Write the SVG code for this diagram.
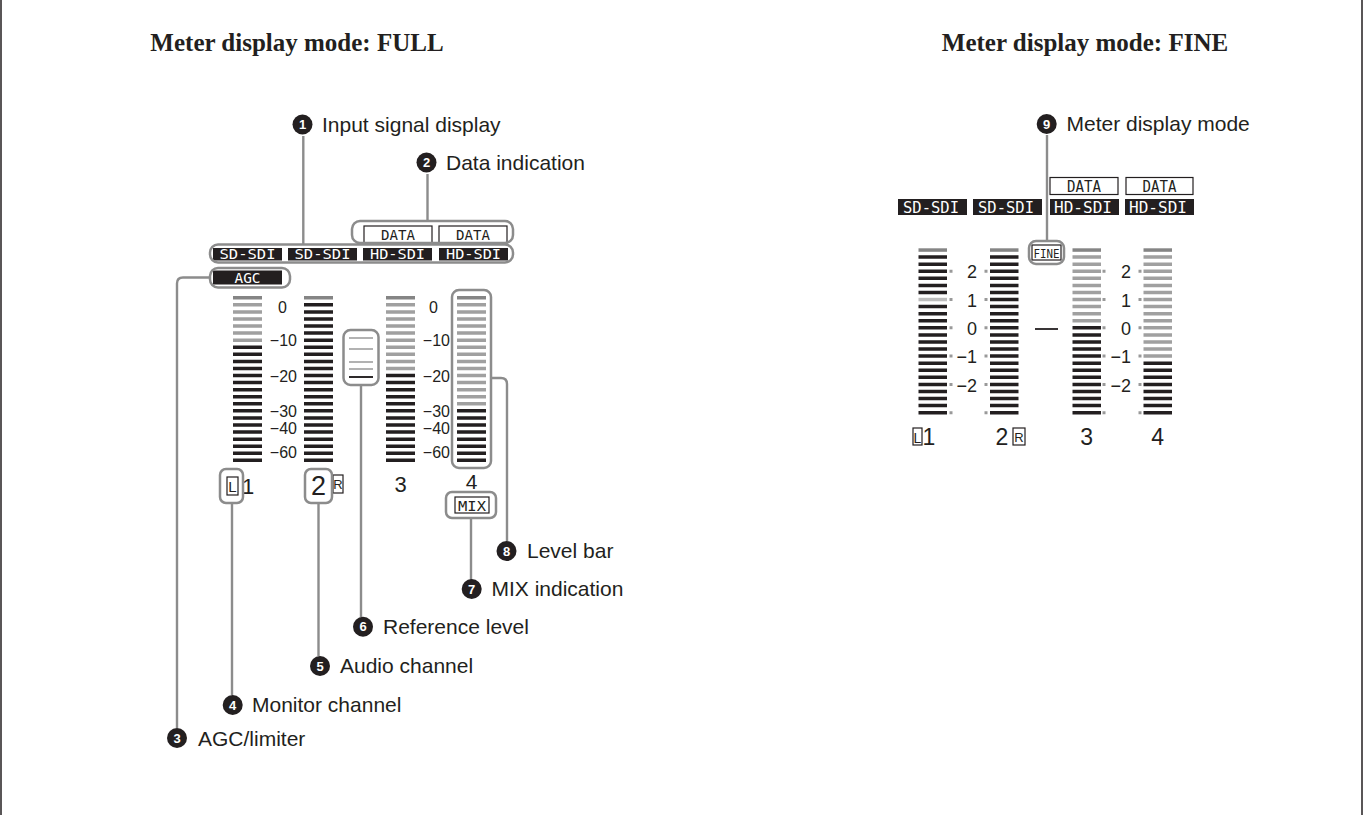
<svg xmlns="http://www.w3.org/2000/svg" width="1364" height="815" viewBox="0 0 1364 815">
<style>
.hl{fill:none;stroke:#8c8c8c;stroke-width:2.5}
.ld{fill:none;stroke:#8c8c8c;stroke-width:2.4}
.bk{fill:#231f20}
.lcd{font-family:"DejaVu Sans Mono","Liberation Mono",monospace;fill:#fff;text-anchor:middle}
.lcdb{font-family:"DejaVu Sans Mono","Liberation Mono",monospace;fill:#231f20;text-anchor:middle}
.box{fill:#fff;stroke:#231f20;stroke-width:1.2}
.lbl{font-family:"Liberation Sans",Arial,sans-serif;font-size:21px;fill:#231f20}
.cn{fill:#231f20}
.num{font-family:"Liberation Sans",Arial,sans-serif;font-weight:bold;font-size:13px;fill:#fff;text-anchor:middle}
.title{font-family:"Liberation Serif","Times New Roman",serif;font-weight:bold;font-size:25px;text-anchor:middle;fill:#231f20}
.sc{font-family:"Liberation Sans",Arial,sans-serif;font-size:16px;text-anchor:end;fill:#231f20}
.scf{font-family:"Liberation Sans",Arial,sans-serif;font-size:18px;text-anchor:end;fill:#231f20}
.ch{font-family:"Liberation Sans",Arial,sans-serif;text-anchor:middle;fill:#231f20}
.bar{fill:none;stroke-dasharray:3.5 3.57}
.g{stroke:#a0a0a0}
.k{stroke:#231f20}
.dk{fill:#858585}
.mk{fill:none;stroke:#999;stroke-width:3;stroke-dasharray:3 25.28}
</style>
<path d="M1,0 V815 M1362,0 V815" stroke="#231f20" stroke-width="1.5" fill="none"/>
<text class="title" x="297" y="51">Meter display mode: FULL</text>
<text class="title" x="1085" y="51">Meter display mode: FINE</text>

<g id="connectors">
<path class="ld" d="M303.3,136 V244"/>
<path class="ld" d="M427.5,174 V221"/>
<path class="ld" d="M210,277.5 H183 Q177,277.5 177,283.5 V728"/>
<path class="ld" d="M232,503 V695"/>
<path class="ld" d="M318.5,503 V656"/>
<path class="ld" d="M361,385 V617"/>
<path class="ld" d="M471,518 V580"/>
<path class="ld" d="M491,378 H501 Q507,378 507,384 V541"/>
<path class="ld" d="M1047,135 V241"/>
</g>

<g id="label1"><circle class="cn" cx="302.5" cy="124.5" r="10"/><text class="num" x="302.5" y="129">1</text><text class="lbl" x="322" y="131.5">Input signal display</text></g>
<g id="label2"><circle class="cn" cx="426.5" cy="162.5" r="10"/><text class="num" x="426.5" y="167">2</text><text class="lbl" x="446" y="169.5">Data indication</text></g>
<g id="label3"><circle class="cn" cx="177" cy="738" r="10"/><text class="num" x="177" y="742.5">3</text><text class="lbl" x="198" y="745.5">AGC/limiter</text></g>
<g id="label4"><circle class="cn" cx="232.7" cy="705" r="10"/><text class="num" x="232.7" y="709.5">4</text><text class="lbl" x="252" y="712">Monitor channel</text></g>
<g id="label5"><circle class="cn" cx="320" cy="666" r="10"/><text class="num" x="320" y="670.5">5</text><text class="lbl" x="340" y="673">Audio channel</text></g>
<g id="label6"><circle class="cn" cx="363" cy="626.7" r="10"/><text class="num" x="363" y="631.2">6</text><text class="lbl" x="383" y="634">Reference level</text></g>
<g id="label7"><circle class="cn" cx="471.7" cy="589" r="10"/><text class="num" x="471.7" y="593.5">7</text><text class="lbl" x="491.5" y="596">MIX indication</text></g>
<g id="label8"><circle class="cn" cx="506.5" cy="551" r="10"/><text class="num" x="506.5" y="555.5">8</text><text class="lbl" x="527" y="558">Level bar</text></g>
<g id="label9"><circle class="cn" cx="1046.7" cy="124" r="10"/><text class="num" x="1046.7" y="128.5">9</text><text class="lbl" x="1066.5" y="131">Meter display mode</text></g>

<!-- FULL display -->
<g id="full-data">
<rect class="box" x="364" y="226" width="68" height="17"/>
<rect class="box" x="439" y="226" width="68" height="17"/>
<text class="lcdb" x="398" y="240" font-size="14" textLength="34" lengthAdjust="spacingAndGlyphs">DATA</text>
<text class="lcdb" x="473" y="240" font-size="14" textLength="34" lengthAdjust="spacingAndGlyphs">DATA</text>
<rect class="hl" x="352" y="221" width="161" height="22" rx="8"/>
</g>
<g id="full-sdi">
<rect class="bk" x="213" y="248" width="69" height="12.5"/>
<rect class="bk" x="288" y="248" width="69" height="12.5"/>
<rect class="bk" x="363" y="248" width="69" height="12.5"/>
<rect class="bk" x="439" y="248" width="69" height="12.5"/>
<text class="lcd" x="247.5" y="259.3" font-size="14" textLength="56" lengthAdjust="spacingAndGlyphs">SD-SDI</text>
<text class="lcd" x="322.5" y="259.3" font-size="14" textLength="56" lengthAdjust="spacingAndGlyphs">SD-SDI</text>
<text class="lcd" x="397.5" y="259.3" font-size="14" textLength="55" lengthAdjust="spacingAndGlyphs">HD-SDI</text>
<text class="lcd" x="473.5" y="259.3" font-size="14" textLength="55" lengthAdjust="spacingAndGlyphs">HD-SDI</text>
<rect class="hl" x="210" y="244.5" width="303" height="18" rx="8"/>
</g>
<g id="full-agc">
<rect class="bk" x="213" y="270.5" width="69" height="14"/>
<text class="lcd" x="247.5" y="282.5" font-size="14" textLength="26" lengthAdjust="spacingAndGlyphs">AGC</text>
<rect class="hl" x="210" y="268" width="80" height="19.5" rx="8"/>
</g>
<g id="full-meters">
<rect class="dk" x="233" y="296" width="29" height="3.5"/>
<line class="bar g" x1="247.5" y1="303.07" x2="247.5" y2="345.49" stroke-width="29"/>
<line class="bar k" x1="247.5" y1="345.49" x2="247.5" y2="465.68" stroke-width="29"/>
<rect class="dk" x="304" y="296" width="29" height="3.5"/>
<line class="bar k" x1="318.5" y1="303.07" x2="318.5" y2="465.68" stroke-width="29"/>
<rect class="dk" x="386" y="296" width="29" height="3.5"/>
<line class="bar g" x1="400.5" y1="303.07" x2="400.5" y2="373.77" stroke-width="29"/>
<line class="bar k" x1="400.5" y1="373.77" x2="400.5" y2="465.68" stroke-width="29"/>
<rect class="dk" x="457" y="296" width="29" height="3.5"/>
<line class="bar g" x1="471.5" y1="303.07" x2="471.5" y2="409.12" stroke-width="29"/>
<line class="bar k" x1="471.5" y1="409.12" x2="471.5" y2="465.68" stroke-width="29"/>
<text class="sc" x="287" y="312.5">0</text>
<text class="sc" x="297" y="346">−10</text>
<text class="sc" x="297" y="381.5">−20</text>
<text class="sc" x="297" y="416.5">−30</text>
<text class="sc" x="297" y="433.5">−40</text>
<text class="sc" x="297" y="458">−60</text>
<text class="sc" x="438" y="312.5">0</text>
<text class="sc" x="450" y="346">−10</text>
<text class="sc" x="450" y="381.5">−20</text>
<text class="sc" x="450" y="416.5">−30</text>
<text class="sc" x="450" y="433.5">−40</text>
<text class="sc" x="450" y="458">−60</text>
</g>
<g id="full-reference">
<path d="M349,338 H373 M349,349 H373 M349,362 H373 M349,369 H373" stroke="#999" stroke-width="1.7"/>
<path d="M349,377 H373" stroke="#231f20" stroke-width="1.9"/>
<rect class="hl" x="343.5" y="330" width="35" height="55" rx="7"/>
</g>
<g id="full-levelbar">
<rect class="hl" x="452" y="290" width="39" height="178" rx="7"/>
</g>
<g id="full-channels">
<rect class="box" x="227" y="477" width="11" height="18" fill="none"/>
<text class="ch" x="232.5" y="492" font-size="15">L</text>
<text class="ch" x="248" y="494" font-size="22">1</text>
<rect class="hl" x="220" y="469" width="23" height="34" rx="6"/>
<text class="ch" x="318.5" y="495" font-size="27">2</text>
<rect class="box" x="333" y="475" width="10" height="18"/>
<text class="ch" x="338" y="489" font-size="13">R</text>
<rect class="hl" x="305" y="469" width="27" height="34" rx="6"/>
<text class="ch" x="400.5" y="492" font-size="22">3</text>
<text class="ch" x="471.5" y="489" font-size="21">4</text>
<rect class="box" x="455" y="497" width="34" height="16"/>
<text class="lcdb" x="472" y="510.5" font-size="14" textLength="28" lengthAdjust="spacingAndGlyphs">MIX</text>
<rect class="hl" x="446" y="492" width="50" height="26" rx="6"/>
</g>

<!-- FINE display -->
<g id="fine-data">
<rect class="box" x="1050" y="177.5" width="68" height="17"/>
<rect class="box" x="1126" y="177.5" width="67" height="17"/>
<text class="lcdb" x="1084" y="192" font-size="15" textLength="34" lengthAdjust="spacingAndGlyphs">DATA</text>
<text class="lcdb" x="1159.5" y="192" font-size="15" textLength="34" lengthAdjust="spacingAndGlyphs">DATA</text>
</g>
<g id="fine-sdi">
<rect class="bk" x="898" y="199" width="69" height="16"/>
<rect class="bk" x="973" y="199" width="69" height="16"/>
<rect class="bk" x="1050" y="199" width="69" height="16"/>
<rect class="bk" x="1125" y="199" width="69" height="16"/>
<text class="lcd" x="931" y="213" font-size="16" textLength="56" lengthAdjust="spacingAndGlyphs">SD-SDI</text>
<text class="lcd" x="1006" y="213" font-size="16" textLength="56" lengthAdjust="spacingAndGlyphs">SD-SDI</text>
<text class="lcd" x="1083" y="213" font-size="16" textLength="58" lengthAdjust="spacingAndGlyphs">HD-SDI</text>
<text class="lcd" x="1158" y="213" font-size="16" textLength="58" lengthAdjust="spacingAndGlyphs">HD-SDI</text>
</g>
<g id="fine-mode">
<rect class="box" x="1032" y="245" width="29" height="15"/>
<text class="lcdb" x="1046.5" y="258" font-size="13" textLength="26" lengthAdjust="spacingAndGlyphs">FINE</text>
<rect class="hl" x="1029" y="241" width="35" height="23" rx="7"/>
</g>
<g id="fine-meters">
<rect class="dk" x="918.5" y="248.3" width="28.5" height="3.5"/>
<line class="bar k" x1="932.75" y1="255.37" x2="932.75" y2="297.79" stroke-width="28.5"/>
<rect x="918.5" y="297.79" width="28.5" height="3.5" fill="#bdbdbd"/>
<line class="bar k" x1="932.75" y1="304.86" x2="932.75" y2="417.98" stroke-width="28.5"/>
<rect class="dk" x="990" y="248.3" width="28.5" height="3.5"/>
<line class="bar k" x1="1004.25" y1="255.37" x2="1004.25" y2="417.98" stroke-width="28.5"/>
<rect class="dk" x="1072.5" y="248.3" width="28.5" height="3.5"/>
<line class="bar g" x1="1086.75" y1="255.37" x2="1086.75" y2="326.07" stroke-width="28.5"/>
<line class="bar k" x1="1086.75" y1="326.07" x2="1086.75" y2="417.98" stroke-width="28.5"/>
<rect class="dk" x="1143.5" y="248.3" width="28.5" height="3.5"/>
<line class="bar g" x1="1157.75" y1="255.37" x2="1157.75" y2="361.42" stroke-width="28.5"/>
<line class="bar k" x1="1157.75" y1="361.42" x2="1157.75" y2="417.98" stroke-width="28.5"/>
<line class="mk" x1="951" y1="269.76" x2="951" y2="416"/>
<line class="mk" x1="986" y1="269.76" x2="986" y2="416"/>
<line class="mk" x1="1104" y1="269.76" x2="1104" y2="416"/>
<line class="mk" x1="1140" y1="269.76" x2="1140" y2="416"/>
<text class="scf" x="977" y="278">2</text>
<text class="scf" x="977" y="306.5">1</text>
<text class="scf" x="977" y="335">0</text>
<text class="scf" x="977" y="363.3">−1</text>
<text class="scf" x="977" y="391.7">−2</text>
<text class="scf" x="1131" y="278">2</text>
<text class="scf" x="1131" y="306.5">1</text>
<text class="scf" x="1131" y="335">0</text>
<text class="scf" x="1131" y="363.3">−1</text>
<text class="scf" x="1131" y="391.7">−2</text>
<path d="M1035,329 H1058" stroke="#231f20" stroke-width="1.8"/>
</g>
<g id="fine-channels">
<rect class="box" x="913" y="428" width="9" height="17"/>
<text class="ch" x="917.5" y="442.5" font-size="14">L</text>
<text class="ch" x="929" y="445" font-size="23">1</text>
<text class="ch" x="1002" y="445" font-size="23">2</text>
<rect class="box" x="1013" y="428" width="12" height="17"/>
<text class="ch" x="1019" y="442" font-size="13">R</text>
<text class="ch" x="1086.7" y="445" font-size="23">3</text>
<text class="ch" x="1157.7" y="445" font-size="23">4</text>
</g>
</svg>
